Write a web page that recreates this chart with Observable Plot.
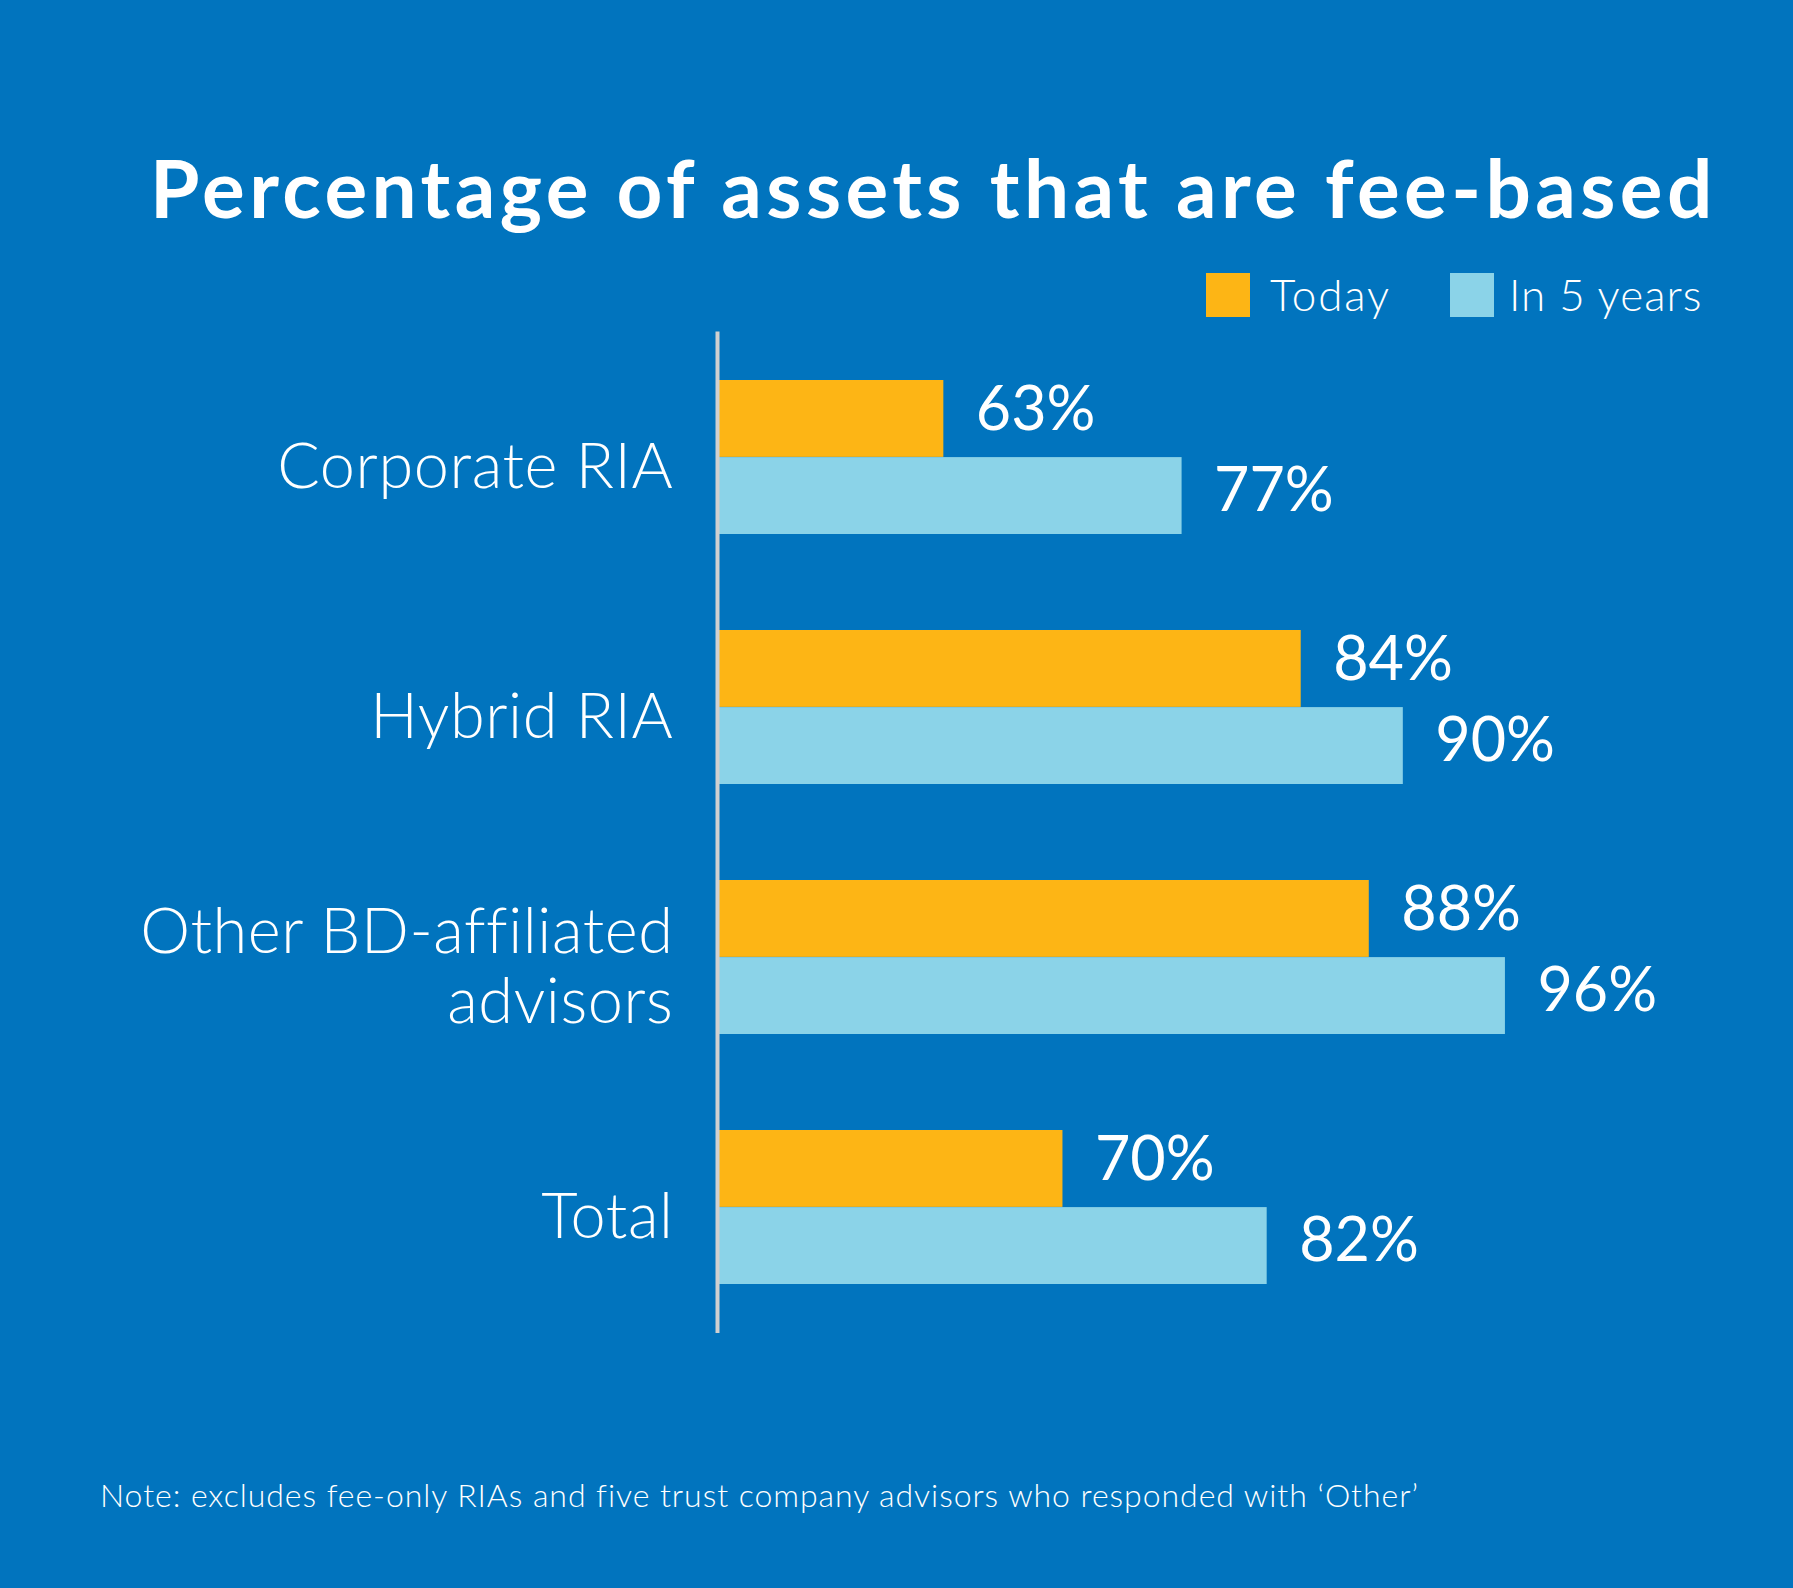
<!DOCTYPE html>
<html>
<head>
<meta charset="utf-8">
<script src="https://cdn.jsdelivr.net/npm/d3@7"></script>
<script src="https://cdn.jsdelivr.net/npm/@observablehq/plot@0.6"></script>
<style>
  html, body { margin: 0; padding: 0; background: #0174BE; }
  #page { position: relative; width: 1793px; height: 1588px; background: #0174BE; font-family: Lato, "Open Sans", sans-serif; color: #fff; overflow: hidden; }
  .abs { position: absolute; white-space: nowrap; line-height: 1; }
  #title { left: 150px; top: 147px; font-size: 80px; font-weight: 700; letter-spacing: 4.4px; }
  #legend { left: 0; top: 0; }
  .sw { position: absolute; width: 44px; height: 44px; top: 273px; }
  .lg { position: absolute; top: 272px; font-size: 44px; font-weight: 300; line-height: 1; white-space: nowrap; }
  #note { left: 100px; top: 1479px; font-size: 32px; font-weight: 300; letter-spacing: 0.95px; }
  #chart { position: absolute; left: 0; top: 300px; }
  #chart g[aria-label="y-axis tick label"] text { letter-spacing: 0.6px; }
</style>
</head>
<body>
<div id="page">
  <div id="title" class="abs"></div>
  <div id="legend"></div>
  <div id="chart"></div>
  <div id="note" class="abs"></div>
</div>
<script>
const titleText = "Percentage of assets that are fee-based";
const noteText = "Note: excludes fee-only RIAs and five trust company advisors who responded with \u2018Other\u2019";
const categories = ["Corporate RIA", "Hybrid RIA", "Other BD-affiliated\nadvisors", "Total"];
const seriesNames = ["Today", "In 5 years"];
const todayValues = [63, 84, 88, 70];
const fiveYearValues = [77, 90, 96, 82];
const seriesColors = ["#FDB515", "#8BD3E8"];
const xStart = 49.7;

document.getElementById("title").textContent = titleText;
document.getElementById("note").textContent = noteText;

// legend
const legend = document.getElementById("legend");
const legendSwatchX = [1206, 1450];
const legendTextX = [1270, 1509];
const legendSpacing = ["1.8px", "1px"];
seriesNames.forEach((s, i) => {
  const sw = document.createElement("div");
  sw.className = "sw";
  sw.style.left = legendSwatchX[i] + "px";
  sw.style.background = seriesColors[i];
  legend.appendChild(sw);
  const t = document.createElement("div");
  t.className = "lg";
  t.style.left = legendTextX[i] + "px";
  t.style.letterSpacing = legendSpacing[i];
  t.textContent = s;
  legend.appendChild(t);
});

const todayRows = categories.map((c, i) => ({category: c, series: seriesNames[0], value: todayValues[i]}));
const fiveRows = categories.map((c, i) => ({category: c, series: seriesNames[1], value: fiveYearValues[i]}));

const chart = Plot.plot({
  width: 1793,
  height: 1080,
  marginLeft: 717,
  marginRight: 220,
  marginTop: 31.5,
  marginBottom: 47,
  style: {background: "transparent", color: "#fff", fontFamily: "Lato, 'Open Sans', sans-serif"},
  x: {domain: [xStart, 100], axis: null},
  y: {domain: categories, paddingInner: 0.384, paddingOuter: 0.192, axis: null},
  color: {domain: seriesNames, range: seriesColors},
  marks: [
    Plot.barX(todayRows, {x1: xStart, x2: "value", y: "category", fill: "series", insetBottom: 77.1}),
    Plot.barX(fiveRows, {x1: xStart, x2: "value", y: "category", fill: "series", insetTop: 77.1}),
    Plot.text(todayRows, {x: "value", y: "category", text: d => d.value + "%", dx: 32, dy: -47, textAnchor: "start", fill: "#fff", fontSize: 61, fontWeight: 400}),
    Plot.text(fiveRows, {x: "value", y: "category", text: d => d.value + "%", dx: 32, dy: 33.5, textAnchor: "start", fill: "#fff", fontSize: 61, fontWeight: 400}),
    Plot.axisY({tickSize: 0, tickPadding: 44, fontSize: 63, fontWeight: 300, lineHeight: 1.11, dy: 8, label: null, fill: "#fff"}),
    Plot.ruleX([xStart], {stroke: "#D0D0D0", strokeWidth: 4})
  ]
});
document.getElementById("chart").appendChild(chart);
</script>
</body>
</html>
